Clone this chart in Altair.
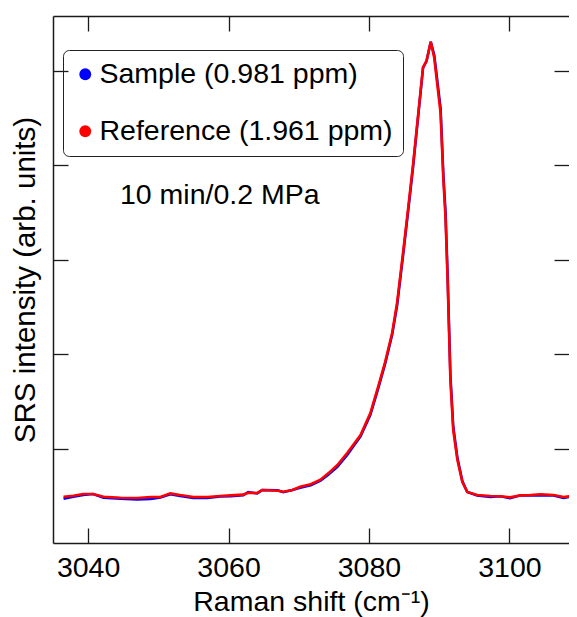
import altair as alt
import pandas as pd

# ---- data ----
shift = [3036.5, 3037.9, 3039.3, 3040.7, 3042.2, 3044.6, 3047.0, 3048.9, 3050.3, 3051.7,
         3053.1, 3055.0, 3057.0, 3058.8, 3060.3, 3062.1, 3062.8, 3064.1, 3064.8, 3067.0,
         3067.8, 3069.1, 3070.2, 3071.7, 3073.1, 3074.2, 3075.5, 3076.9, 3078.8, 3080.2,
         3081.3, 3082.3, 3083.3, 3084.0, 3084.9, 3085.6, 3086.3, 3087.0, 3087.7, 3088.2,
         3088.8, 3089.3, 3090.2, 3090.6, 3090.9, 3091.2, 3091.6, 3092.0, 3092.6, 3093.3,
         3094.0, 3095.4, 3097.3, 3098.7, 3100.1, 3101.6, 3103.0, 3104.4, 3106.3, 3107.7,
         3109.0, 3109.7]

sample = [0.470, 0.491, 0.509, 0.519, 0.480, 0.470, 0.462, 0.467, 0.482, 0.516,
          0.498, 0.477, 0.477, 0.493, 0.495, 0.507, 0.538, 0.525, 0.561, 0.559,
          0.538, 0.561, 0.586, 0.612, 0.661, 0.723, 0.806, 0.933, 1.129, 1.357,
          1.633, 1.897, 2.205, 2.512, 3.074, 3.529, 3.995, 4.514, 5.032, 5.106,
          5.310, 5.168, 4.605, 3.895, 3.513, 2.846, 1.777, 1.237, 0.899, 0.656,
          0.540, 0.503, 0.488, 0.495, 0.474, 0.505, 0.503, 0.506, 0.503, 0.477,
          0.493, 0.493]

reference = [0.490, 0.501, 0.519, 0.519, 0.490, 0.480, 0.477, 0.487, 0.487, 0.526,
             0.508, 0.487, 0.487, 0.498, 0.505, 0.512, 0.533, 0.530, 0.561, 0.554,
             0.543, 0.561, 0.596, 0.622, 0.671, 0.738, 0.826, 0.953, 1.144, 1.377,
             1.653, 1.917, 2.225, 2.542, 3.104, 3.559, 4.025, 4.534, 5.042, 5.106,
             5.310, 5.138, 4.555, 3.845, 3.453, 2.786, 1.727, 1.197, 0.879, 0.646,
             0.540, 0.508, 0.498, 0.495, 0.484, 0.505, 0.508, 0.516, 0.508, 0.487,
             0.498, 0.498]

series_names = ["Sample (0.981 ppm)", "Reference (1.961 ppm)"]
series_colors = ["#0000ff", "#ff0000"]
x_ticks = [3040, 3060, 3080, 3100]
y_ticks = [1, 2, 3, 4, 5]
x_domain = [3035, 3108.49]
y_domain = [0, 5.583]
condition_label = "10 min/0.2 MPa"
x_title = "Raman shift (cm\u207b\u00b9)"
y_title = "SRS intensity (arb. units)"

df = pd.DataFrame({
    "shift": shift + shift,
    "intensity": sample + reference,
    "series": [series_names[0]] * len(shift) + [series_names[1]] * len(shift),
})

FONT = "Liberation Sans"
INK = "#1a1a1a"
TICK = 15
FS = 28.5

xs = alt.Scale(domain=x_domain, nice=False, zero=False)
ys = alt.Scale(domain=y_domain, nice=False, zero=False)


def axis(**kw):
    base = dict(grid=False, labels=False, ticks=False, domain=False, title=None)
    base.update(kw)
    return alt.Axis(**base)


def tick_axis(orient, values):
    return axis(orient=orient, offset=-TICK, ticks=True, tickSize=TICK,
                tickWidth=1.3, tickColor=INK, values=values)


base = alt.Chart(df)

# Sample line: main bottom / left axes
sample_line = base.transform_filter(
    alt.datum.series == series_names[0]
).mark_line(color=series_colors[0], strokeWidth=2.6, clip=True).encode(
    x=alt.X("shift:Q", scale=xs, axis=axis(
        orient="bottom", domain=True, domainColor=INK, domainWidth=1.5,
        labels=True, values=x_ticks, format="d", tickSize=0,
        labelFont=FONT, labelFontSize=FS, labelColor="black", labelPadding=10,
        title=x_title, titleFont=FONT, titleFontSize=FS, titleFontWeight="normal",
        titleColor="black", titleBaseline="alphabetic", titleY=67)),
    y=alt.Y("intensity:Q", scale=ys, axis=axis(
        orient="left", domain=True, domainColor=INK, domainWidth=1.5,
        tickSize=0, title=y_title, titleFont=FONT, titleFontSize=29.5,
        titleFontWeight="normal", titleColor="black", titlePadding=13)),
)

# Reference line: inward ticks on bottom / left
reference_line = base.transform_filter(
    alt.datum.series == series_names[1]
).mark_line(color=series_colors[1], strokeWidth=2.6, clip=True).encode(
    x=alt.X("shift:Q", scale=xs, axis=tick_axis("bottom", x_ticks)),
    y=alt.Y("intensity:Q", scale=ys, axis=tick_axis("left", y_ticks)),
)

# Invisible points carrying the legend, top frame line and right inward ticks
legend_layer = base.mark_point(filled=True, opacity=0).encode(
    x=alt.X("shift:Q", scale=xs, axis=axis(orient="top", domain=True,
                                           domainColor=INK, domainWidth=1.5, tickSize=0)),
    y=alt.Y("intensity:Q", scale=ys, axis=tick_axis("right", y_ticks)),
    color=alt.Color("series:N",
                    scale=alt.Scale(domain=series_names, range=series_colors),
                    legend=alt.Legend(
                        orient="none", legendX=10, legendY=34, title=None,
                        labelFont=FONT, labelFontSize=FS, labelColor="black",
                        labelLimit=500, labelOffset=0,
                        symbolType="circle", symbolSize=140, symbolStrokeWidth=0,
                        symbolOpacity=1, symbolOffset=-2,
                        padding=10, rowPadding=28,
                        strokeColor="#222222", cornerRadius=6)),
)

# Invisible points carrying the inward ticks on top
top_ticks = base.mark_point(opacity=0).encode(
    x=alt.X("shift:Q", scale=xs, axis=tick_axis("top", x_ticks)),
    y=alt.Y("intensity:Q", scale=ys, axis=None),
)

note = alt.Chart(pd.DataFrame({"label": [condition_label]})).mark_text(
    align="left", baseline="alphabetic", font=FONT, fontSize=FS, color="black"
).encode(
    text="label:N",
    x=alt.value(67),
    y=alt.value(188),
)

# svg kept at 561 px wide (the page's content width) so that it is not shrunk
chart = alt.layer(
    sample_line, reference_line, legend_layer, top_ticks, note
).resolve_axis(
    x="independent", y="independent"
).properties(
    width=516, height=527,
    padding={"left": 45, "top": 8, "right": 0, "bottom": 74},
    autosize=alt.AutoSizeParams(type="none"),
).configure_view(stroke="transparent")

chart.save("out.html", embed_options={"renderer": "svg", "actions": False})
